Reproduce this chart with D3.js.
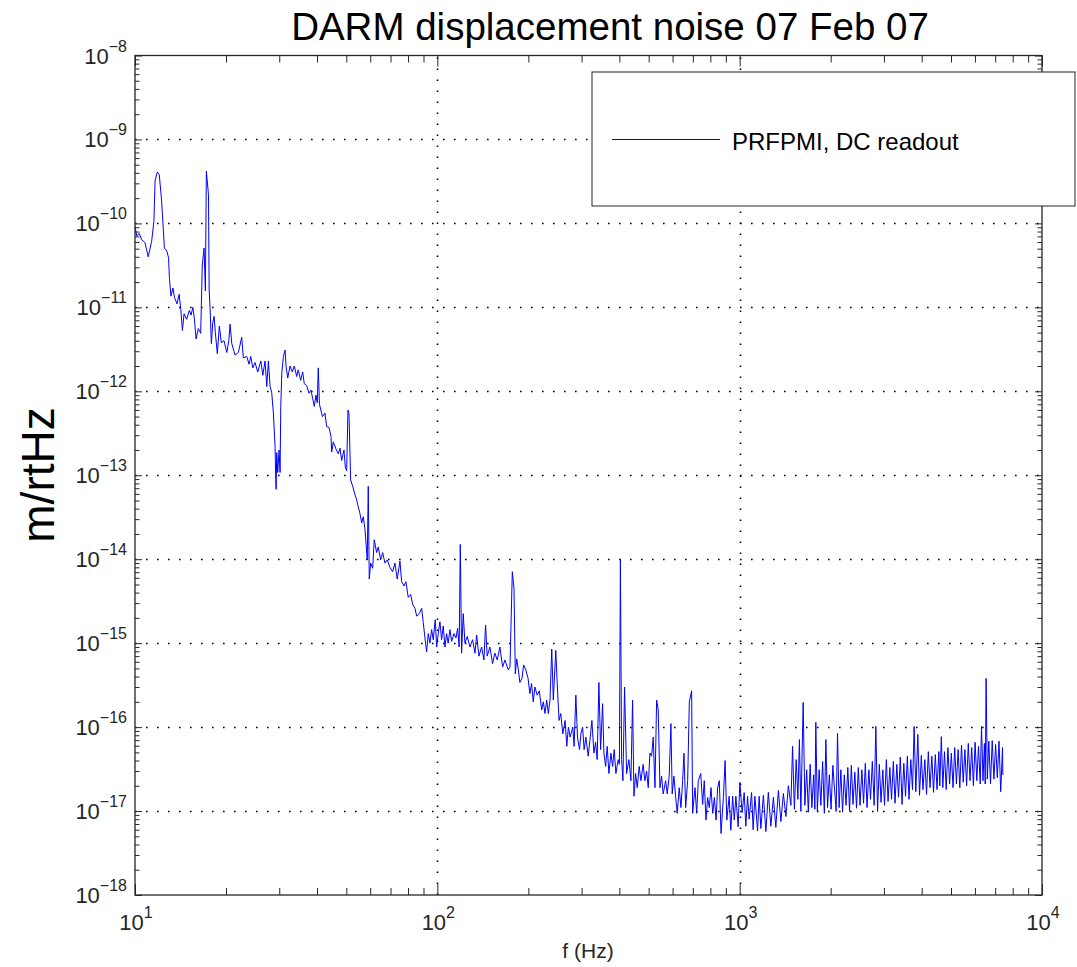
<!DOCTYPE html>
<html>
<head>
<meta charset="utf-8">
<script src="https://cdn.jsdelivr.net/npm/d3@7"></script>
<style>
  html, body { margin: 0; padding: 0; background: #fff; }
  svg { display: block; font-family: "Liberation Sans", Arial, Helvetica, sans-serif; }
</style>
</head>
<body>
<svg id="chart" width="1077" height="967"></svg>
<script>
'use strict';

/** spectrum in pieces: [frequency (Hz), amplitude (m/rtHz)] */
// 10 - 33 Hz: seismic / suspension region
const lowBand = [
	[10.0, 9.3e-11], [10.13, 7.1e-11], [10.33, 7.6e-11], [10.52, 6.4e-11], [10.79, 5.9e-11],
	[11.06, 4.0e-11], [11.35, 6.1e-11], [11.55, 1.06e-10], [11.65, 3.2e-10], [11.85, 4.1e-10],
	[12.03, 3.8e-10], [12.25, 1.84e-10], [12.51, 5.1e-11], [12.74, 4.7e-11], [12.91, 3.9e-11],
	[13.0, 2.2e-11], [13.15, 1.36e-11], [13.35, 1.7e-11], [13.52, 1.3e-11], [13.77, 1.1e-11],
	[14.0, 1.43e-11], [14.17, 9.5e-12], [14.35, 5.3e-12], [14.53, 8.4e-12], [14.82, 7.2e-12],
	[15.13, 9.2e-12], [15.33, 8.1e-12], [15.53, 1.0e-11], [15.72, 7.3e-12], [15.92, 4.2e-12],
	[16.20, 5.6e-12], [16.49, 4.9e-12], [16.69, 3.1e-11], [16.92, 5.1e-11], [17.09, 1.57e-11],
	[17.22, 4.2e-10], [17.50, 2.2e-10], [17.59, 1.6e-11], [17.71, 1.0e-11], [17.89, 3.7e-12],
	[18.08, 6.6e-12], [18.27, 7.8e-12], [18.44, 5.0e-12], [18.72, 2.8e-12], [19.01, 6.0e-12],
	[19.30, 3.8e-12], [19.70, 4.0e-12], [20.12, 2.9e-12], [20.43, 4.0e-12], [20.63, 6.3e-12],
	[20.90, 3.7e-12], [21.42, 2.7e-12], [21.97, 2.9e-12], [22.54, 4.4e-12], [22.82, 2.5e-12],
	[23.42, 2.6e-12], [23.84, 2.1e-12], [24.15, 2.6e-12], [24.53, 1.9e-12], [24.95, 2.2e-12],
	[25.47, 1.7e-12], [26.07, 2.3e-12], [26.47, 1.55e-12], [26.93, 2.3e-12], [27.28, 1.14e-12],
	[27.62, 2.3e-12], [27.97, 1.15e-12], [28.33, 9.6e-13], [28.69, 5.5e-13], [29.06, 2.2e-13],
	[29.21, 8.9e-14], [29.30, 6.8e-14], [29.43, 1.86e-13], [29.66, 1.08e-13], [29.96, 2.0e-13],
	[30.19, 1.08e-13], [30.35, 6.6e-13], [30.59, 1.66e-12], [30.97, 2.6e-12], [31.36, 3.1e-12],
	[31.60, 1.98e-12], [32.0, 1.44e-12], [32.57, 2.0e-12]
];

// 33 - 99 Hz: steep fall-off
const slopeBand = [
	[33.13, 1.7e-12], [33.64, 2.0e-12], [34.26, 1.5e-12], [34.67, 1.8e-12], [35.32, 1.35e-12],
	[35.86, 1.7e-12], [36.30, 1.23e-12], [36.97, 1.17e-12], [37.62, 9.5e-13], [38.20, 1.03e-12],
	[38.70, 8.2e-13], [39.17, 6.6e-13], [39.68, 9.0e-13], [40.08, 7.3e-13], [40.38, 1.9e-12],
	[40.75, 7.0e-13], [41.69, 5.0e-13], [42.50, 5.5e-13], [43.05, 3.8e-13], [43.82, 3.7e-13],
	[44.49, 2.9e-13], [44.73, 1.9e-13], [45.28, 2.5e-13], [46.22, 2.05e-13], [47.04, 1.8e-13],
	[47.65, 2.1e-13], [48.27, 1.5e-13], [49.12, 2.0e-13], [49.61, 1.25e-13], [50.13, 1.13e-13],
	[50.63, 6.0e-13], [51.01, 5.5e-13], [51.68, 8.8e-14], [52.47, 7.4e-14], [53.40, 5.9e-14],
	[54.09, 5.1e-14], [54.76, 4.2e-14], [55.47, 3.5e-14], [56.20, 2.7e-14], [56.88, 3.2e-14],
	[57.62, 2.3e-14], [58.64, 9.8e-15], [59.09, 7.4e-14], [59.54, 5.8e-15], [60.18, 9.0e-15],
	[61.10, 7.8e-15], [61.85, 1.7e-14], [62.99, 1.2e-14], [63.76, 1.4e-14], [64.94, 9.8e-15],
	[65.94, 1.2e-14], [67.10, 9.0e-15], [68.29, 9.8e-15], [69.71, 8.0e-15], [71.15, 7.1e-15],
	[72.41, 9.0e-15], [73.69, 5.8e-15], [75.22, 9.5e-15], [76.20, 5.4e-15], [77.55, 4.8e-15],
	[78.74, 5.4e-15], [80.13, 3.5e-15], [81.61, 3.8e-15], [82.86, 2.9e-15], [84.33, 2.6e-15],
	[85.43, 2.1e-15], [87.14, 2.25e-15], [88.75, 2.6e-15], [89.83, 1.76e-15], [91.49, 9.8e-16],
	[92.19, 7.9e-16], [93.32, 1.3e-15], [94.52, 1.0e-15], [95.75, 1.45e-15], [96.93, 1.1e-15],
	[98.41, 1.9e-15]
];

// 99 - 300 Hz
const midBand = [
	[99.5, 9.0e-16], [100.7, 1.3e-15], [102.0, 1.8e-15], [103.3, 1.1e-15], [104.6, 1.6e-15],
	[106.0, 9.0e-16], [107.3, 1.3e-15], [108.6, 1.0e-15], [110.1, 1.45e-15], [111.5, 1.05e-15],
	[113.5, 1.3e-15], [115.2, 1.15e-15], [116.7, 1.5e-15], [118.1, 9.0e-16], [119.1, 1.5e-14],
	[120.3, 7.6e-16], [121.8, 2.25e-15], [123.4, 1.0e-15], [125.6, 1.2e-15], [128.2, 9.0e-16],
	[130.8, 1.1e-15], [133.2, 7.6e-16], [134.9, 1.25e-15], [137.3, 7.0e-16], [140.1, 9.0e-16],
	[142.6, 6.3e-16], [144.4, 1.65e-15], [146.2, 7.0e-16], [149.2, 9.0e-16], [152.3, 5.7e-16],
	[155.0, 7.6e-16], [157.8, 6.3e-16], [161.0, 9.0e-16], [164.4, 5.2e-16], [167.3, 6.3e-16],
	[171.7, 4.8e-16], [173.9, 5.2e-16], [177.0, 7.1e-15], [179.3, 4.5e-15], [181.1, 4.3e-16],
	[183.0, 6.5e-16], [185.4, 4.8e-16], [187.5, 3.4e-16], [190.5, 3.8e-16], [193.0, 5.5e-16],
	[196.2, 4.8e-16], [199.6, 3.8e-16], [202.3, 2.5e-16], [205.0, 3.3e-16], [207.6, 2.0e-16],
	[210.3, 3.0e-16], [214.0, 2.4e-16], [217.4, 2.7e-16], [221.4, 1.6e-16], [224.2, 2.0e-16],
	[227.0, 1.45e-16], [230.0, 2.1e-16], [232.9, 1.45e-16], [235.9, 2.1e-16], [239.0, 8.5e-16],
	[241.9, 2.1e-16], [246.5, 8.2e-16], [249.5, 3.0e-16], [252.7, 1.2e-16], [256.0, 1.45e-16],
	[260.0, 8.3e-17], [264.6, 1.2e-16], [268.0, 5.9e-17], [271.3, 1.0e-16], [274.9, 7.6e-17],
	[280.6, 1.0e-16], [283.4, 5.9e-17], [287.2, 2.4e-16], [290.8, 7.6e-17], [295.3, 5.4e-17]
];

// 300 - 1000 Hz: shot noise floor with lines
const floorBand = [
	[298.5, 8.4e-17], [302.3, 1.0e-16], [305.9, 5.4e-17], [309.9, 7.6e-17], [315.5, 4.5e-17],
	[319.6, 6.9e-17], [324.5, 1.2e-16], [329.5, 4.9e-17], [333.8, 6.6e-17], [337.8, 4.1e-17],
	[342.3, 3.4e-16], [346.8, 5.4e-17], [352.1, 1.9e-16], [355.6, 4.9e-17], [360.3, 3.4e-17],
	[364.6, 5.9e-17], [369.4, 2.8e-17], [375.1, 4.9e-17], [380.0, 3.4e-17], [384.6, 5.4e-17],
	[389.6, 2.8e-17], [396.5, 4.1e-17], [400.1, 3.6e-17], [403.2, 1.0e-14], [406.9, 4.1e-17],
	[411.0, 2.3e-17], [416.2, 3.0e-16], [422.7, 2.8e-17], [430.2, 4.1e-17], [436.8, 2.3e-17],
	[442.4, 2.1e-16], [447.0, 1.5e-17], [452.7, 2.8e-17], [458.3, 1.9e-17], [465.3, 3.4e-17],
	[471.4, 2.3e-17], [479.5, 3.6e-17], [485.8, 2.3e-17], [492.3, 3.0e-17], [498.4, 1.9e-17],
	[504.8, 4.9e-17], [511.4, 4.5e-17], [517.7, 7.6e-17], [524.6, 1.9e-17], [531.3, 2.1e-16],
	[537.8, 1.6e-16], [544.8, 1.9e-17], [551.8, 2.6e-17], [558.6, 1.6e-17], [569.0, 2.3e-17],
	[576.0, 1.6e-17], [584.7, 2.6e-17], [592.4, 1.1e-16], [598.2, 1.6e-17], [606.1, 2.6e-17],
	[613.9, 1.5e-17], [621.5, 9.4e-18], [631.1, 1.9e-17], [639.4, 1.1e-17], [647.6, 2.3e-17],
	[654.3, 4.9e-17], [662.9, 1.1e-17], [673.0, 2.3e-17], [681.5, 2.0e-16], [693.5, 2.7e-16],
	[699.0, 9.4e-18], [711.6, 1.9e-17], [720.7, 9.4e-18], [729.9, 2.3e-17], [743.4, 2.8e-17],
	[754.3, 1.2e-17], [763.6, 2.3e-17], [773.6, 7.8e-18], [783.5, 1.45e-17], [793.5, 1.1e-17],
	[803.8, 1.9e-17], [814.3, 9.4e-18], [824.7, 1.45e-17], [835.5, 7.8e-18], [845.6, 1.9e-17],
	[856.2, 2.3e-17], [867.7, 5.4e-18], [883.4, 1.45e-17], [895.0, 4.0e-17], [906.8, 7.8e-18],
	[923.0, 1.5e-17], [934.9, 5.9e-18], [947.9, 1.5e-17], [960.0, 7.8e-18], [971.5, 1.5e-17],
	[988.6, 6.5e-18]
];

// 1 - 7.4 kHz
const highBand = [
	[1001.5, 2.2e-17], [1019, 9.6e-18], [1035, 1.66e-17], [1048, 6.6e-18], [1062, 1.5e-17],
	[1075, 8.0e-18], [1095, 1.66e-17], [1108, 6.0e-18], [1123, 1.5e-17], [1146, 5.8e-18],
	[1160, 1.5e-17], [1175, 6.2e-18], [1198, 1.54e-17], [1221, 5.7e-18], [1244, 1.67e-17],
	[1268, 6.6e-18], [1293, 1.46e-17], [1317, 6.4e-18], [1343, 1.76e-17], [1369, 7.5e-18],
	[1395, 1.62e-17], [1422, 8.6e-18], [1449, 2.0e-17], [1477, 1.17e-17], [1496, 5.9e-17],
	[1517, 1.05e-17], [1538, 4.1e-17], [1558, 1.38e-17], [1576, 7.1e-17], [1594, 9.9e-18],
	[1622, 1.97e-16], [1643, 1.17e-17], [1666, 3.1e-17], [1687, 9.7e-18], [1711, 3.6e-17],
	[1733, 1.1e-17], [1757, 2.7e-17], [1773, 1.05e-17], [1786, 1.14e-16], [1807, 9.9e-18],
	[1832, 3.1e-17], [1856, 1.17e-17], [1881, 3.9e-17], [1906, 9.4e-18], [1928, 7.1e-17],
	[1953, 1.1e-17], [1980, 2.7e-17], [2006, 1.05e-17], [2033, 3.5e-17], [2085, 9.9e-18],
	[2107, 8.4e-17], [2133, 1.1e-17], [2161, 3.1e-17], [2189, 9.7e-18], [2219, 2.7e-17],
	[2248, 1.17e-17], [2279, 3.3e-17], [2309, 9.9e-18], [2341, 3.5e-17], [2371, 1.2e-17],
	[2404, 2.9e-17], [2435, 1.08e-17], [2469, 3.3e-17], [2501, 1.17e-17], [2536, 3.1e-17],
	[2569, 1.24e-17], [2604, 3.7e-17], [2638, 1.1e-17], [2675, 3.1e-17], [2709, 1.38e-17],
	[2747, 3.9e-17], [2785, 1.17e-17], [2821, 1.02e-16], [2858, 9.9e-18], [2897, 3.6e-17],
	[2935, 1.27e-17], [2975, 3.1e-17], [3014, 1.17e-17], [3056, 4.1e-17], [3096, 1.3e-17],
	[3138, 3.3e-17], [3179, 1.38e-17], [3223, 3.9e-17], [3265, 1.24e-17], [3310, 3.6e-17],
	[3353, 1.46e-17], [3399, 4.4e-17], [3444, 1.2e-17], [3491, 3.7e-17], [3537, 1.5e-17],
	[3586, 4.5e-17], [3632, 1.38e-17], [3682, 4.1e-17], [3730, 1.8e-17], [3776, 1.02e-16],
	[3825, 1.7e-17], [3884, 8.2e-17], [3935, 1.54e-17], [3989, 4.6e-17], [4041, 1.8e-17],
	[4097, 4.1e-17], [4150, 1.58e-17], [4207, 5.1e-17], [4262, 1.9e-17], [4321, 4.5e-17],
	[4377, 1.67e-17], [4438, 4.7e-17], [4496, 1.8e-17], [4558, 5.1e-17], [4592, 2.0e-17],
	[4645, 7.7e-17], [4699, 1.9e-17], [4759, 5.1e-17], [4821, 1.8e-17], [4884, 5.7e-17],
	[4948, 2.1e-17], [5013, 4.9e-17], [5078, 1.9e-17], [5144, 5.7e-17], [5211, 2.1e-17],
	[5279, 5.4e-17], [5348, 1.9e-17], [5417, 6.1e-17], [5488, 2.2e-17], [5559, 5.4e-17],
	[5632, 2.0e-17], [5705, 6.4e-17], [5779, 2.3e-17], [5855, 5.7e-17], [5931, 2.0e-17],
	[6008, 6.6e-17], [6087, 2.3e-17], [6166, 5.9e-17], [6246, 2.1e-17], [6308, 1.02e-16],
	[6381, 2.3e-17], [6449, 6.4e-17], [6489, 2.1e-17], [6534, 3.8e-16], [6594, 2.4e-17],
	[6669, 6.8e-17], [6756, 2.1e-17], [6844, 6.9e-17], [6933, 2.4e-17], [7024, 6.2e-17],
	[7115, 2.5e-17], [7208, 6.8e-17], [7302, 1.7e-17], [7403, 5.7e-17], [7420, 2.7e-17]
];

/** texts and ticks */
const chartTitle = 'DARM displacement noise 07 Feb 07';
const xTitle = 'f (Hz)';
const yTitle = 'm/rtHz';
const legendLabel = 'PRFPMI, DC readout';
const xTickExponents = [1, 2, 3, 4];
const yTickExponents = [-8, -9, -10, -11, -12, -13, -14, -15, -16, -17, -18];
const minorMultipliers = [2, 3, 4, 5, 6, 7, 8, 9];

const spectrum = [].concat(lowBand, slopeBand, midBand, floorBand, highBand);

const plot = { left: 135, right: 1042, top: 55.5, bottom: 895 };
const ink = '#262626';

const svg = d3.select('#chart');

const x = d3.scaleLog()
	.domain([10, 1e4])
	.range([plot.left, plot.right]);
const y = d3.scaleLog()
	.domain([1e-18, 1e-8])
	.range([plot.bottom, plot.top]);

const xMajor = xTickExponents.map(e => Math.pow(10, e));
const yMajor = yTickExponents.map(e => Math.pow(10, e));
const xMinor = [];
xTickExponents.slice(0, -1).forEach(e => {
	minorMultipliers.forEach(k => xMinor.push(k * Math.pow(10, e)));
});
const yMinor = [];
yTickExponents.slice(1).forEach(e => {
	minorMultipliers.forEach(k => yMinor.push(k * Math.pow(10, e)));
});

// title
svg.append('text')
	.attr('x', 610)
	.attr('y', 40)
	.attr('text-anchor', 'middle')
	.style('font-size', '38.5px')
	.attr('fill', '#000')
	.text(chartTitle);

// dotted grid at the decades (behind the data)
const grid = svg.append('g').attr('id', 'grid')
	.attr('stroke', '#000')
	.attr('stroke-width', 1.6)
	.attr('stroke-dasharray', '1.6,9.4');
grid.selectAll('line.gx')
	.data(xMajor.slice(1, -1))
	.join('line')
		.attr('class', 'gx')
		.attr('x1', d => Math.round(x(d)) + 0.5)
		.attr('x2', d => Math.round(x(d)) + 0.5)
		.attr('y1', plot.bottom)
		.attr('y2', plot.top);
grid.selectAll('line.gy')
	.data(yMajor.slice(1, -1))
	.join('line')
		.attr('class', 'gy')
		.attr('x1', plot.left)
		.attr('x2', plot.right)
		.attr('y1', d => Math.round(y(d)) + 0.5)
		.attr('y2', d => Math.round(y(d)) + 0.5);

// the spectrum
svg.append('clipPath').attr('id', 'plotClip')
	.append('rect')
		.attr('x', plot.left)
		.attr('y', plot.top)
		.attr('width', plot.right - plot.left)
		.attr('height', plot.bottom - plot.top);

const line = d3.line()
	.x(d => x(d[0]))
	.y(d => y(d[1]));

svg.append('path')
	.datum(spectrum)
	.attr('clip-path', 'url(#plotClip)')
	.attr('fill', 'none')
	.attr('stroke', '#0000ff')
	.attr('stroke-width', 1)
	.attr('stroke-linejoin', 'round')
	.attr('d', line);

// axes box and inward ticks on all four sides
function tickAxis(axis, values, size, transform){
	const g = svg.append('g')
		.attr('transform', transform)
		.style('color', ink)
		.call(axis.tickValues(values).tickSize(-size).tickFormat(() => ''));
	g.select('.domain').remove();
	g.selectAll('line').attr('stroke-width', 1);
}
tickAxis(d3.axisBottom(x), xMinor, 7, `translate(0,${plot.bottom})`);
tickAxis(d3.axisBottom(x), xMajor, 11, `translate(0,${plot.bottom})`);
tickAxis(d3.axisTop(x), xMinor, 7, `translate(0,${plot.top})`);
tickAxis(d3.axisTop(x), xMajor, 11, `translate(0,${plot.top})`);
tickAxis(d3.axisLeft(y), yMinor, 4.5, `translate(${plot.left},0)`);
tickAxis(d3.axisLeft(y), yMajor, 7, `translate(${plot.left},0)`);
tickAxis(d3.axisRight(y), yMinor, 4.5, `translate(${plot.right},0)`);
tickAxis(d3.axisRight(y), yMajor, 7, `translate(${plot.right},0)`);

svg.append('rect')
	.attr('x', plot.left)
	.attr('y', plot.top)
	.attr('width', plot.right - plot.left)
	.attr('height', plot.bottom - plot.top)
	.attr('fill', 'none')
	.attr('stroke', ink)
	.attr('stroke-width', 1.3);

// tick labels: 10 with a superscript exponent
function powerLabel(sel, e){
	sel.append('tspan').text('10');
	sel.append('tspan')
		.attr('dy', -12)
		.style('font-size', '16px')
		.text(String(e).replace('-', '\u2212'));
}
svg.append('g').selectAll('text')
	.data(xTickExponents)
	.join('text')
		.attr('x', e => x(Math.pow(10, e)) + 1)
		.attr('y', 930)
		.attr('text-anchor', 'middle')
		.attr('fill', ink)
		.style('font-size', '22px')
		.each(function(e){ powerLabel(d3.select(this), e); });

svg.append('g').selectAll('text')
	.data(yTickExponents)
	.join('text')
		.attr('x', 127)
		.attr('y', e => y(Math.pow(10, e)) + 8)
		.attr('text-anchor', 'end')
		.attr('fill', ink)
		.style('font-size', '22px')
		.each(function(e){ powerLabel(d3.select(this), e); });

// axis titles
svg.append('text')
	.attr('x', 588)
	.attr('y', 958)
	.attr('text-anchor', 'middle')
	.attr('fill', ink)
	.style('font-size', '21px')
	.text(xTitle);

svg.append('text')
	.attr('transform', 'translate(54,475) rotate(-90)')
	.attr('text-anchor', 'middle')
	.attr('fill', '#000')
	.style('font-size', '46px')
	.text(yTitle);

// legend (drawn over the top right corner of the axes)
const legend = svg.append('g').attr('id', 'legend');
legend.append('rect')
	.attr('x', 592)
	.attr('y', 72)
	.attr('width', 483)
	.attr('height', 134)
	.attr('fill', '#fff')
	.attr('stroke', ink)
	.attr('stroke-width', 1);
legend.append('line')
	.attr('x1', 612)
	.attr('x2', 720)
	.attr('y1', 139.5)
	.attr('y2', 139.5)
	.attr('stroke', '#0000ff')
	.attr('stroke-width', 1);
legend.append('text')
	.attr('x', 732)
	.attr('y', 150)
	.attr('fill', '#000')
	.style('font-size', '24px')
	.text(legendLabel);
</script>
</body>
</html>
